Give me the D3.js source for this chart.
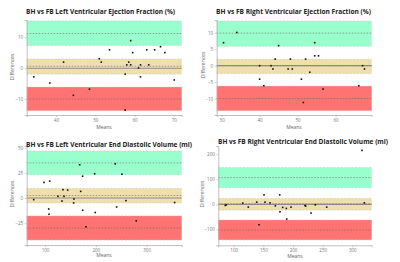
<!DOCTYPE html>
<html>
<head>
<meta charset="utf-8">
<script src="https://cdn.jsdelivr.net/npm/d3@7"></script>
<style>
  body { margin: 0; background: #fff; }
  svg { display: block; font-family: "Open Sans", "Noto Sans", sans-serif; }
</style>
</head>
<body>
<svg id="chart"></svg>
<script>
// Chart values

// titles
const titles = [
    "BH vs FB Left Ventricular Ejection Fraction (%)",
    "BH vs FB Right Ventricular Ejection Fraction (%)",
    "BH vs FB Left Ventricular End Diastolic Volume (ml)",
    "BH vs FB Right Ventricular End Diastolic Volume (ml)"
];

// LVEF
const lvefMeans = [34.3, 38.4, 41.9, 44.4, 48.5, 51.0, 51.5, 53.6, 57.6, 58.0, 58.5, 59.0, 59.0, 57.6, 59.5, 61.0, 61.5, 61.5, 63.1, 63.6, 65.1, 66.6, 67.7, 70.1];
const lvefDiffs = [-2.8, -4.8, 2.0, -8.8, -6.8, 3.1, 2.0, 6.0, -1.9, 1.1, 2.0, 9.0, 1.1, -13.6, 5.1, 0.1, 1.1, -2.8, 6.0, 1.1, 6.0, 7.0, 5.1, -3.8];
// [lower CI, line, upper CI] for upper LoA, bias, lower LoA
const lvefLimits = [[7.4, 11.3, 15.4], [-1.9, 0.65, 3.0], [-13.8, -10.0, -6.1]];

// RVEF
const rvefMeans = [30.5, 34.0, 45.0, 54.5, 54.5, 55.5, 40.0, 43.0, 43.5, 44.1, 47.5, 48.1, 48.6, 52.1, 53.2, 40.0, 41.1, 51.0, 51.5, 56.7, 66.1, 67.1, 67.6];
const rvefDiffs = [7.0, 10.1, 6.1, 7.0, 3.0, 3.0, 0.0, 0.0, -1.0, 2.0, -1.0, 2.0, -1.0, 2.0, -2.0, -4.1, -6.1, -4.1, -11.2, -7.1, -6.1, 0.0, -1.0];
const rvefLimits = [[5.9, 9.9, 13.6], [-2.4, -0.05, 1.95], [-13.7, -10.0, -6.2]];

// LVEDV
const lvedvMeans = [77.8, 98, 109.2, 107.3, 107.9, 125.6, 135.4, 137.4, 133.4, 144.6, 157, 156.4, 168.2, 170.2, 174.1, 174.1, 180.6, 197.7, 198.9, 238.3, 251.4, 241, 259.3, 279.5, 355];
const lvedvDiffs = [-1.6, 15.5, 16.8, -10.9, -16.1, 1.7, 8.3, 1.7, -3.0, 7.9, -1.0, -4.9, 33.0, 6.6, 21.7, -12.1, -28.6, 24.1, -14.4, 34.0, 23.7, -8.9, -2.6, -22.7, -4.5];
const lvedvLimits = [[23.1, 34.9, 46.7], [-4.9, 2.5, 9.5], [-41.8, -29.9, -17.8]];

// RVEDV
const rvedvMeans = [85.8, 87.5, 115.2, 124.6, 138.8, 142.7, 151.1, 152.8, 161.2, 170.2, 177.6, 178.1, 182.6, 188.7, 189.4, 196.6, 220.2, 221.4, 230.4, 237.6, 256.8, 316.4, 320.3];
const rvedvDiffs = [-4, -1.6, 5.2, -10.7, 9.1, -81, 38, 9.1, 6.3, -5.6, 38, -29.4, -11.9, -15.9, -58.3, -10.7, -4, -6.7, -34.5, -1.6, -10.7, 215.5, 6.3];
const rvedvLimits = [[66, 107, 147], [-22.6, 3, 24], [-141.5, -102, -62]];

// axis domains and tick values
const xDomains = [[32.5, 72], [28.7, 69.5], [64, 369], [74, 332.7]];
const yDomains = [[-15.2, 15.7], [-15, 13.9], [-46.7, 51.7], [-163, 233]];
const xTicks = [[40, 50, 60, 70], [30, 40, 50, 60], [100, 200, 300], [100, 150, 200, 250, 300]];
const yTicks = [[-10, 0, 10], [-10, -5, 0, 5, 10], [-25, 0, 25, 50], [-100, 0, 100, 200]];

// colours
const bandColors = ["#99ffcc", "#efe0aa", "#ff7373"];

const panels = [
    { means: lvefMeans, diffs: lvefDiffs, limits: lvefLimits },
    { means: rvefMeans, diffs: rvefDiffs, limits: rvefLimits },
    { means: lvedvMeans, diffs: lvedvDiffs, limits: lvedvLimits },
    { means: rvedvMeans, diffs: rvedvDiffs, limits: rvedvLimits }
];

// layout for each panel (pixels inside a 200x131 cell)
const layouts = [
    { ox: 0, oy: 0, left: 26.7, right: 181.7, top: 20, bottom: 115, titleX: 26, titleW: 149, titleY: 13.5, meansX: 104, meansY: 128.5, diffX: 14, diffY: 67 },
    { ox: 200, oy: 0, left: 16.7, right: 171.7, top: 20, bottom: 115, titleX: 16, titleW: 155, titleY: 13.5, meansX: 94, meansY: 128.5, diffX: 4.5, diffY: 65 },
    { ox: 0, oy: 131, left: 26.7, right: 181.7, top: 15, bottom: 114, titleX: 26, titleW: 166, titleY: 16, meansX: 104, meansY: 126, diffX: 14, diffY: 63 },
    { ox: 200, oy: 131, left: 18.3, right: 171.7, top: 15, bottom: 114.3, titleX: 18, titleW: 170, titleY: 12.8, meansX: 95, meansY: 127, diffX: 4, diffY: 63 }
];

const width = 400;
const height = 262;

const svg = d3.select("#chart")
    .attr("width", width)
    .attr("height", height);

panels.forEach((p, i) => drawPanel(p, i));

function drawPanel(p, i) {
    const L = layouts[i];
    const g = svg.append("g").attr("transform", `translate(${L.ox},${L.oy})`);

    const x = d3.scaleLinear().domain(xDomains[i]).range([L.left, L.right]);
    const y = d3.scaleLinear().domain(yDomains[i]).range([L.bottom, L.top]);

    // bands with dashed borders and dashed centre lines
    p.limits.forEach((lim, k) => {
        g.append("rect")
            .attr("x", x.range()[0])
            .attr("width", x.range()[1] - x.range()[0])
            .attr("y", y(lim[2]))
            .attr("height", y(lim[0]) - y(lim[2]))
            .attr("fill", bandColors[k]);
        [lim[0], lim[2]].forEach(v => {
            g.append("line")
                .attr("x1", x.range()[0]).attr("x2", x.range()[1])
                .attr("y1", y(v)).attr("y2", y(v))
                .attr("stroke", "#c8c8c8")
                .attr("stroke-width", 0.6)
                .attr("stroke-dasharray", "2,1.5");
        });
        g.append("line")
            .attr("x1", x.range()[0]).attr("x2", x.range()[1])
            .attr("y1", y(lim[1])).attr("y2", y(lim[1]))
            .attr("stroke", "#666")
            .attr("stroke-width", 0.6)
            .attr("stroke-dasharray", "1.5,1.5");
    });

    // zero line
    g.append("line")
        .attr("x1", x.range()[0]).attr("x2", x.range()[1])
        .attr("y1", y(0)).attr("y2", y(0))
        .attr("stroke", "#8a8a8a")
        .attr("stroke-width", 1.2);

    // axes
    const xAxis = g.append("g")
        .attr("transform", `translate(0,${L.bottom})`)
        .call(d3.axisBottom(x).tickValues(xTicks[i]).tickSize(2).tickPadding(1.5));
    const yAxis = g.append("g")
        .attr("transform", `translate(${L.left},0)`)
        .call(d3.axisLeft(y).tickValues(yTicks[i]).tickSize(2).tickPadding(1.5));
    [xAxis, yAxis].forEach(a => {
        a.select(".domain").attr("stroke", "#b0b0b0").attr("stroke-width", 0.8);
        a.selectAll(".tick line").attr("stroke", "#b0b0b0").attr("stroke-width", 0.6);
        a.selectAll(".tick text").attr("fill", "#777").attr("font-size", 4.5).attr("font-family", "Open Sans, sans-serif");
    });

    // points
    g.selectAll("rect.pt")
        .data(p.means.map((m, j) => [m, p.diffs[j]]))
        .enter().append("rect")
        .attr("class", "pt")
        .attr("x", d => x(d[0]) - 0.8)
        .attr("y", d => y(d[1]) - 0.8)
        .attr("width", 1.6)
        .attr("height", 1.6)
        .attr("fill", "#111");

    // title
    g.append("text")
        .attr("x", L.titleX)
        .attr("y", L.titleY)
        .attr("font-size", 6.6)
        .attr("font-weight", "bold")
        .attr("fill", "#222")
        .attr("textLength", L.titleW)
        .attr("lengthAdjust", "spacingAndGlyphs")
        .text(titles[i]);

    // axis titles
    g.append("text")
        .attr("x", L.meansX)
        .attr("y", L.meansY)
        .attr("text-anchor", "middle")
        .attr("font-size", 5)
        .attr("fill", "#666")
        .text("Means");
    g.append("text")
        .attr("transform", `translate(${L.diffX},${L.diffY}) rotate(-90)`)
        .attr("text-anchor", "middle")
        .attr("font-size", 5)
        .attr("fill", "#666")
        .text("Differences");
}
</script>
</body>
</html>
